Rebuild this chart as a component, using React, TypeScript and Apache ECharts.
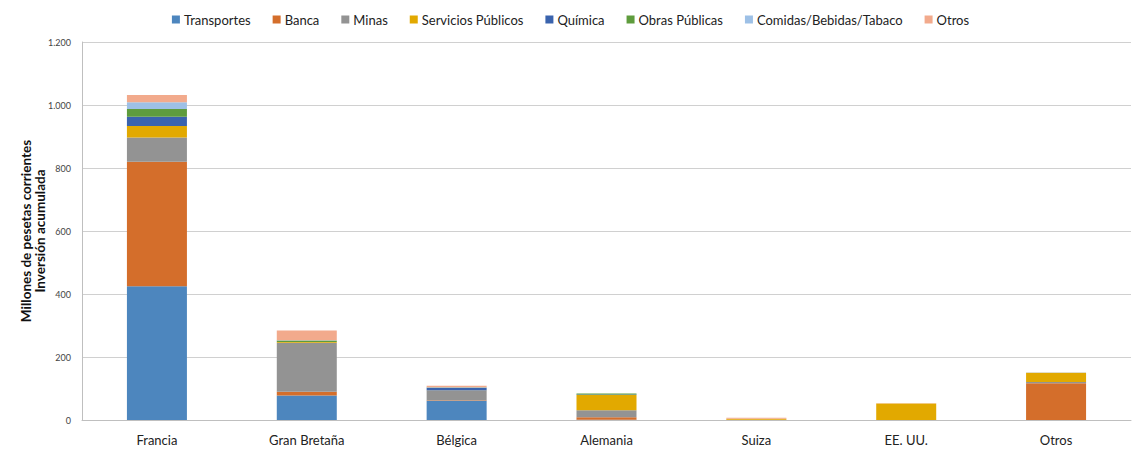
import React, { useEffect, useRef } from "react";
import * as echarts from "echarts";

const categories = ["Francia", "Gran Bretaña", "Bélgica", "Alemania", "Suiza", "EE. UU.", "Otros"];
const seriesNames = ["Transportes", "Banca", "Minas", "Servicios Públicos", "Química", "Obras Públicas", "Comidas/Bebidas/Tabaco", "Otros"];
const transportes = [425, 78, 61, 1, 0, 0, 0];
const banca = [395, 12, 2, 8, 1, 0, 117];
const minas = [77, 155, 30, 22, 0, 0, 4];
const serviciosPublicos = [36, 3, 1, 48, 3, 52, 29];
const quimica = [30, 0, 8, 2, 0, 0, 0];
const obrasPublicas = [24, 4, 1, 3, 0, 0, 0];
const comidas = [22, 1, 1, 0, 0, 0, 1];
const otros = [23, 31, 5, 0, 3, 1, 0];
const yTicks = [0, 200, 400, 600, 800, 1000, 1200];

const colors = ["#4D86BE", "#D46E2B", "#939393", "#E2A900", "#3A63AD", "#5E9C3D", "#9DC0E6", "#F2AA8C"];

export default function App() {
  const ref = useRef<HTMLDivElement>(null);
  useEffect(() => {
    if (!ref.current) return;
    const chart = echarts.init(ref.current, null, { renderer: "svg" });
    const data = [transportes, banca, minas, serviciosPublicos, quimica, obrasPublicas, comidas, otros];
    chart.setOption({
      animation: false,
      color: colors,
      textStyle: { fontFamily: "Lato" },
      legend: {
        top: 0,
        left: "center",
        itemWidth: 8,
        itemHeight: 8,
        itemGap: 22,
        icon: "rect",
        textStyle: { fontSize: 13, color: "#222", fontFamily: "Lato", padding: [0, 0, 0, -1] },
        data: seriesNames,
      },
      grid: { left: 74, right: 2, top: 34, bottom: 34, containLabel: false, outerBoundsMode: "none" },
      xAxis: {
        type: "category",
        data: categories,
        axisLine: { lineStyle: { color: "#BFBFBF" } },
        axisTick: { show: false },
        axisLabel: { fontSize: 13, color: "#222", margin: 13, fontFamily: "Lato" },
      },
      yAxis: {
        type: "value",
        min: yTicks[0],
        max: yTicks[yTicks.length - 1],
        interval: 200,
        name: "Millones de pesetas corrientes\nInversión acumulada",
        nameLocation: "middle",
        nameGap: 35,
        nameMoveOverlap: false,
        nameTextStyle: { fontSize: 13.5, fontWeight: "bold", color: "#111", lineHeight: 14, fontFamily: "Lato" },
        axisLine: { show: true, lineStyle: { color: "#BFBFBF" } },
        axisTick: { show: false },
        splitLine: { lineStyle: { color: "#D0D0D0" } },
        axisLabel: {
          fontSize: 9,
          color: "#444",
          margin: 11,
          formatter: (v: number) => String(v).replace(/\B(?=(\d{3})+(?!\d))/g, "."),
        },
      },
      series: seriesNames.map((name, i) => ({
        name,
        type: "bar",
        stack: "total",
        barWidth: 60,
        data: data[i],
        itemStyle: { borderWidth: 0 },
      })),
    });
    return () => chart.dispose();
  }, []);
  return <div ref={ref} style={{ width: 1125, height: 446 }} />;
}
